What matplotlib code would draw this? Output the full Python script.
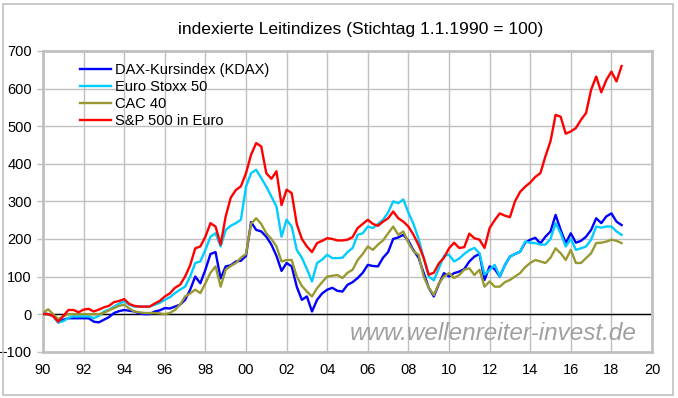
import numpy as np
import matplotlib.pyplot as plt
from matplotlib.patches import Rectangle

plt.rcParams['font.family'] = ['Liberation Sans', 'DejaVu Sans']

# quarterly readings, 1990.00 .. 2018.50
start_year = 1990.0
step = 0.25

dax = [3, 0, -5, -22,
       -15, -11, -11, -11,
       -11, -11, -20, -22,
       -15, -8, 3, 8,
       11, 9, 7, 2,
       0, 0, 7, 10,
       16, 15, 20, 25,
       38, 65, 100, 82,
       118, 160, 165, 95,
       127, 130, 140, 142,
       155, 245, 224, 220,
       206, 185, 155, 115,
       136, 127, 73, 38,
       47, 7, 38, 55,
       65, 70, 62, 60,
       78, 85, 96, 110,
       131, 128, 127, 150,
       165, 200, 204, 211,
       195, 170, 150, 110,
       70, 47, 80, 109,
       100, 109, 113, 120,
       140, 153, 160, 91,
       127, 120, 100, 130,
       153, 160, 166, 190,
       198, 203, 188, 206,
       220, 264, 224, 189,
       215, 190, 195, 206,
       224, 255, 242, 260,
       268, 246, 237]

stoxx = [0, 0, -5, -22,
         -19, -10, -6, -6,
         -6, -6, -11, -5,
         7, 12, 20, 28,
         34, 25, 20, 20,
         20, 20, 25, 30,
         38, 45, 56, 65,
         73, 100, 136, 140,
         171, 206, 215, 180,
         224, 235, 242, 251,
         339, 375, 384, 362,
         339, 313, 286, 206,
         251, 233, 171, 150,
         120, 87, 136, 145,
         158, 149, 149, 150,
         165, 176, 211, 215,
         233, 229, 240, 251,
         270, 300, 295, 305,
         270, 240, 200, 150,
         100, 90, 122, 155,
         158, 140, 148, 160,
         170, 176, 162, 105,
         118, 131, 100, 130,
         153, 160, 166, 193,
         190, 189, 185, 185,
         200, 242, 215, 180,
         200, 171, 175, 180,
         198, 233, 230, 233,
         233, 220, 211]

cac = [3, 13, 0, -14,
       -6, 0, 0, 0,
       0, 0, 0, 0,
       3, 10, 16, 22,
       25, 15, 7, 5,
       3, 3, 3, 2,
       0, 3, 11, 25,
       47, 55, 65, 56,
       82, 110, 127, 73,
       118, 128, 136, 150,
       160, 240, 255, 240,
       215, 200, 180, 140,
       144, 144, 100, 75,
       60, 47, 69, 85,
       100, 102, 104, 96,
       110, 118, 144, 160,
       180, 171, 185, 196,
       215, 233, 211, 220,
       190, 167, 158, 100,
       70, 51, 82, 100,
       109, 96, 104, 118,
       122, 104, 118, 73,
       87, 73, 73, 85,
       91, 100, 109, 125,
       136, 144, 140, 136,
       150, 175, 162, 144,
       171, 136, 136, 149,
       162, 189, 190, 193,
       198, 195, 189]

spx = [0, 0, -5, -20,
       -5, 11, 11, 5,
       12, 14, 7, 12,
       18, 22, 32, 35,
       40, 27, 22, 20,
       20, 20, 28, 35,
       47, 55, 70, 78,
       100, 130, 175, 180,
       206, 242, 233, 185,
       260, 310, 330, 340,
       375, 424, 455, 446,
       375, 360, 380, 290,
       331, 322, 240, 200,
       180, 165, 189, 195,
       202, 200, 196, 196,
       198, 205, 229, 240,
       251, 240, 235, 246,
       255, 273, 255, 246,
       233, 211, 184, 150,
       105, 110, 135, 150,
       175, 190, 176, 178,
       214, 202, 198, 176,
       229, 250, 268, 262,
       258, 300, 325, 339,
       350, 365, 375, 420,
       460, 530, 525, 480,
       486, 495, 517, 535,
       597, 632, 590, 623,
       645, 619, 660]

labels = ['DAX-Kursindex (KDAX)', 'Euro Stoxx 50', 'CAC 40', 'S&P 500 in Euro']
colors = ['#0000ff', '#00ccff', '#999933', '#ff0000']
xticks = np.arange(1990, 2021, 2)

t = start_year + step * np.arange(len(dax))

fig = plt.figure(figsize=(6.78, 3.98), dpi=100)
ax = fig.add_axes([0.0634, 0.1163, 0.8983, 0.7556])

for series, lab, col in zip([dax, stoxx, cac, spx], labels, colors):
    ax.plot(t, series, color=col, linewidth=1.7, label=lab, zorder=3)

ax.axhline(0, color='black', linewidth=1.0, zorder=2)

ax.set_xlim(1990, 2020)
ax.set_ylim(-100, 700)
ax.set_xticks(xticks)
ax.set_xticklabels(['%02d' % (y % 100) for y in xticks])
ax.set_yticks(np.arange(-100, 701, 100))
ax.grid(True, color='#c0c0c0', linewidth=1.0, zorder=1)
ax.set_axisbelow(True)
for s in ax.spines.values():
    s.set_color('#c0c0c0')
    s.set_linewidth(2)
ax.tick_params(axis='y', length=4, width=1, color='#c0c0c0', labelsize=10.5, pad=4)
ax.tick_params(axis='x', length=0, labelsize=10.5, pad=8)

leg = ax.legend(loc='upper left', bbox_to_anchor=(0.052, 0.98), frameon=False,
                fontsize=10.5, handlelength=2.1, handletextpad=0.25, labelspacing=0.22,
                borderaxespad=0)

fig.text(0.532, 0.925, 'indexierte Leitindizes (Stichtag 1.1.1990 = 100)',
         ha='center', va='center', fontsize=12.6)

ax.text(0.974, 0.06, 'www.wellenreiter-invest.de', transform=ax.transAxes,
        ha='right', va='center', fontsize=17.5, style='italic', color='#a0a0a0', zorder=4)

fig.patches.append(Rectangle((3 / 678, 3 / 398), 670 / 678, 391 / 398,
                             transform=fig.transFigure, fill=False,
                             edgecolor='#c0c0c0', linewidth=1.2))

fig.savefig('out.png', dpi=100)
